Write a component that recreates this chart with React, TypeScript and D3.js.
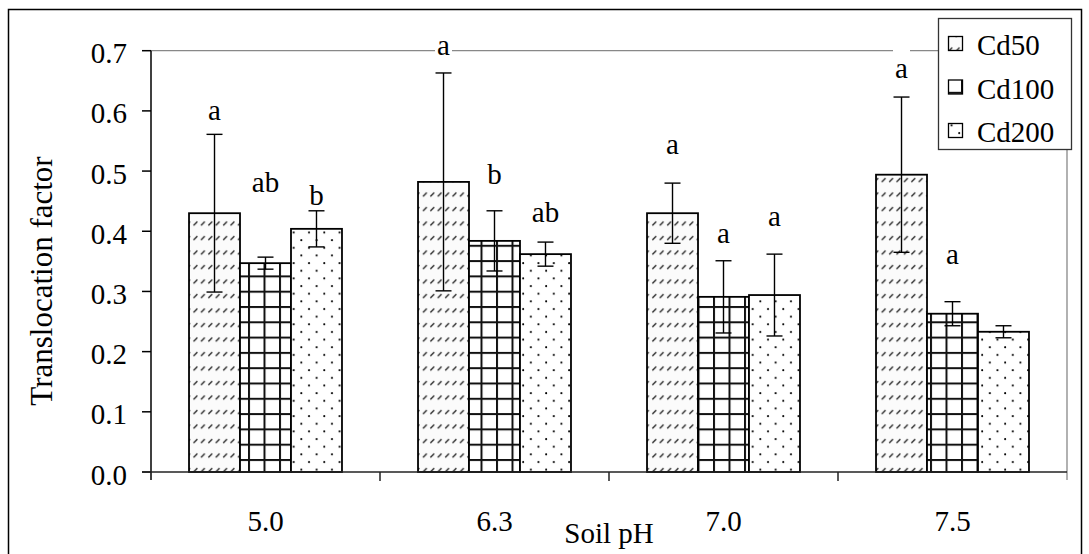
import React from 'react';
import * as d3 from 'd3';

// soil pH groups and Cd treatments
const categories = ['5.0', '6.3', '7.0', '7.5'];
const series = ['Cd50', 'Cd100', 'Cd200'];

// translocation factor means and error (± half-range)
const cd50 = [0.43, 0.482, 0.43, 0.494];
const cd50Err = [0.131, 0.181, 0.05, 0.129];
const cd100 = [0.347, 0.384, 0.291, 0.263];
const cd100Err = [0.01, 0.05, 0.06, 0.02];
const cd200 = [0.404, 0.362, 0.294, 0.233];
const cd200Err = [0.03, 0.02, 0.068, 0.01];

// significance letters and the value they sit at
const cd50Letters = ['a', 'a', 'a', 'a'];
const cd100Letters = ['ab', 'b', 'a', 'a'];
const cd200Letters = ['b', 'ab', 'a', ''];
const cd50LabelAt = [0.585, 0.693, 0.528, 0.654];
const cd100LabelAt = [0.465, 0.478, 0.38, 0.346];
const cd200LabelAt = [0.444, 0.416, 0.409, 0];

const yTicks = [0, 0.1, 0.2, 0.3, 0.4, 0.5, 0.6, 0.7];

const W = 1089;
const H = 554;
const FONT = 'Liberation Serif, serif';
const FS = 29;

const plot = { left: 151, right: 1067, top: 50.7, bottom: 472 };

const values = [cd50, cd100, cd200];
const errors = [cd50Err, cd100Err, cd200Err];
const letters = [cd50Letters, cd100Letters, cd200Letters];
const labelAt = [cd50LabelAt, cd100LabelAt, cd200LabelAt];
const fills = ['url(#pat-cd50)', 'url(#pat-cd100)', 'url(#pat-cd200)'];

export default function App() {
  const x = d3
    .scaleBand()
    .domain(categories)
    .range([plot.left, plot.right])
    .paddingInner(0)
    .paddingOuter(0);
  const bw = x.bandwidth();
  const inner = d3
    .scaleBand()
    .domain(series)
    .range([bw * 0.166, bw * 0.834])
    .padding(0);
  const y = d3.scaleLinear().domain([0, 0.7]).range([plot.bottom, plot.top]);
  const fmt = d3.format('.1f');
  const cap = 8;

  const bars = [];
  const errs = [];
  const labels = [];
  series.forEach((s, si) => {
    categories.forEach((c, ci) => {
      const x0 = (x(c) as number) + (inner(s) as number);
      const w = inner.bandwidth();
      const v = values[si][ci];
      const e = errors[si][ci];
      const cx = x0 + w / 2;
      bars.push(
        <rect
          key={`b-${s}-${c}`}
          x={x0}
          y={y(v)}
          width={w}
          height={y(0) - y(v)}
          fill={fills[si]}
          stroke="#000"
          strokeWidth={1.8}
        />
      );
      errs.push(
        <g key={`e-${s}-${c}`} stroke="#000" strokeWidth={1.4}>
          <line x1={cx} x2={cx} y1={y(v + e)} y2={y(v - e)} />
          <line x1={cx - cap} x2={cx + cap} y1={y(v + e)} y2={y(v + e)} />
          <line x1={cx - cap} x2={cx + cap} y1={y(v - e)} y2={y(v - e)} />
        </g>
      );
      const t = letters[si][ci];
      if (t) {
        const by = y(labelAt[si][ci]);
        const tw = t.length * 13 + 4;
        labels.push(
          <g key={`l-${s}-${c}`}>
            <rect x={cx - tw / 2} y={by - 30} width={tw} height={33} fill="#fff" />
            <text x={cx} y={by} textAnchor="middle" style={{ fontFamily: FONT, fontSize: FS }}>
              {t}
            </text>
          </g>
        );
      }
    });
  });

  return (
    <svg
      width={W}
      height={H}
      style={{ position: 'absolute', left: 0, top: 0, background: '#fff', fontFamily: FONT }}
    >
      <defs>
        <pattern id="pat-cd50" patternUnits="userSpaceOnUse" width={7.4} height={14.5}>
          <rect width={7.4} height={14.5} fill="#fbfbfb" />
          <line x1={1.2} y1={8} x2={5} y2={4} stroke="#2a2a2a" strokeWidth={1.4} />
        </pattern>
        <pattern id="pat-cd100" patternUnits="userSpaceOnUse" width={15.5} height={15.3}>
          <rect width={15.5} height={15.3} fill="#fff" />
          <line x1={1} y1={0} x2={1} y2={15.3} stroke="#111" strokeWidth={2} />
          <line x1={0} y1={1} x2={15.5} y2={1} stroke="#111" strokeWidth={2} />
        </pattern>
        <pattern id="pat-cd200" patternUnits="userSpaceOnUse" width={15.3} height={15.3}>
          <rect width={15.3} height={15.3} fill="#fff" />
          <circle cx={3} cy={3} r={1} fill="#000" />
          <circle cx={10.65} cy={10.65} r={1} fill="#000" />
        </pattern>
      </defs>

      {/* outer frame */}
      <rect x={8.5} y={9.5} width={1073} height={560} fill="none" stroke="#000" strokeWidth={1.5} />

      {/* plot border top / right */}
      <line x1={plot.left} x2={plot.right} y1={plot.top} y2={plot.top} stroke="#888" strokeWidth={1.3} />
      <line x1={plot.right} x2={plot.right} y1={plot.top} y2={plot.bottom + 8} stroke="#888" strokeWidth={1.3} />

      {bars}
      {errs}
      {labels}

      {/* y axis */}
      <line x1={plot.left} x2={plot.left} y1={plot.top} y2={plot.bottom + 8} stroke="#000" strokeWidth={1.5} />
      {yTicks.map(t => (
        <g key={`yt-${t}`}>
          <line x1={plot.left - 9} x2={plot.left} y1={y(t)} y2={y(t)} stroke="#000" strokeWidth={1.5} />
          <text x={127} y={y(t) + 12.5} textAnchor="end" style={{ fontFamily: FONT, fontSize: FS }}>
            {fmt(t)}
          </text>
        </g>
      ))}
      <text
        transform={`translate(52,281) rotate(-90)`}
        textAnchor="middle"
        style={{ fontFamily: FONT, fontSize: 31 }}
      >
        Translocation factor
      </text>

      {/* x axis */}
      <line x1={plot.left - 9} x2={plot.right} y1={plot.bottom} y2={plot.bottom} stroke="#222" strokeWidth={1.5} />
      {categories.map((c, i) => (
        <g key={`xt-${c}`}>
          {i > 0 && (
            <line
              x1={x(c)}
              x2={x(c)}
              y1={plot.bottom}
              y2={plot.bottom + 9}
              stroke="#222"
              strokeWidth={1.5}
            />
          )}
          <text
            x={(x(c) as number) + bw / 2}
            y={531}
            textAnchor="middle"
            style={{ fontFamily: FONT, fontSize: FS }}
          >
            {c}
          </text>
        </g>
      ))}
      <text
        x={(plot.left + plot.right) / 2}
        y={543}
        textAnchor="middle"
        style={{ fontFamily: FONT, fontSize: FS }}
      >
        Soil pH
      </text>

      {/* legend */}
      <rect x={938.5} y={18.5} width={133} height={131} fill="#fff" stroke="#333" strokeWidth={1.3} />
      {series.map((s, i) => {
        const by = 55 + i * 43.5;
        return (
          <g key={`lg-${s}`}>
            <rect
              x={948.5}
              y={by - 18.5}
              width={14}
              height={14}
              fill={fills[i]}
              stroke="#000"
              strokeWidth={1.3}
            />
            <text x={977} y={by} style={{ fontFamily: FONT, fontSize: FS }}>
              {s}
            </text>
          </g>
        );
      })}
    </svg>
  );
}
